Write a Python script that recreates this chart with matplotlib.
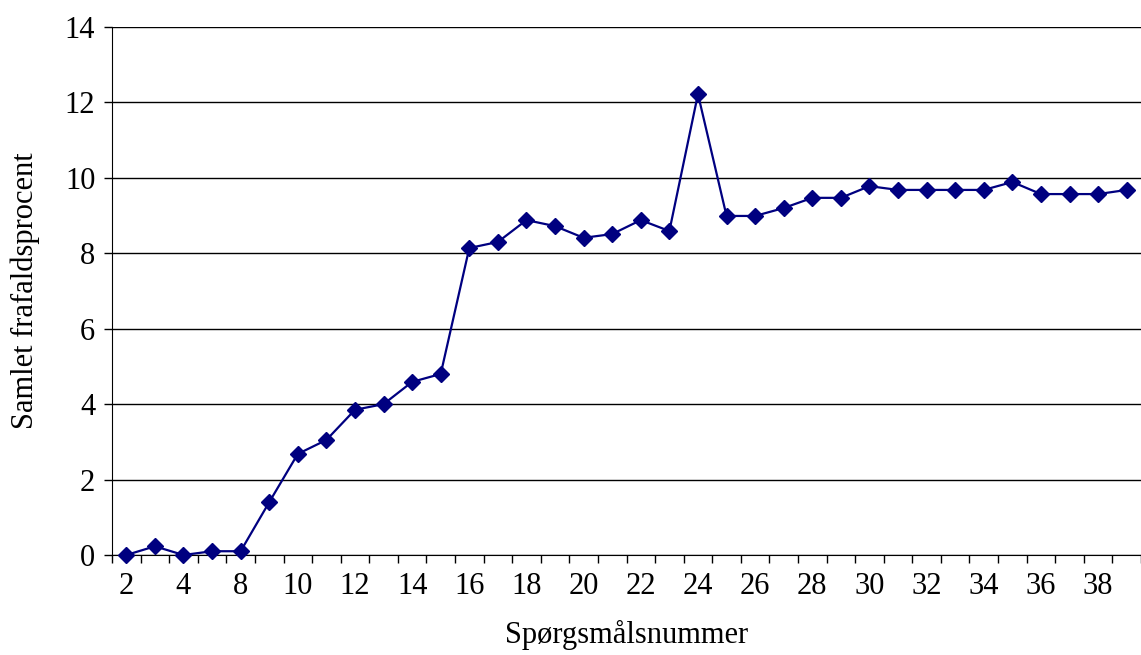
import numpy as np
import matplotlib
matplotlib.use("Agg")
import matplotlib.pyplot as plt

# question numbers (x categories) and cumulative dropout percent
questions = ["2", "3", "4", "6", "8", "9", "10", "11", "12", "13", "14", "15",
             "16", "17", "18", "19", "20", "21", "22", "23", "24", "25", "26",
             "27", "28", "29", "30", "31", "32", "33", "34", "35", "36", "37",
             "38", "39"]
dropout = [0.0, 0.23, 0.0, 0.1, 0.1, 1.4, 2.68, 3.05, 3.85, 4.0, 4.59, 4.8,
           8.14, 8.3, 8.88, 8.72, 8.41, 8.51, 8.88, 8.59, 12.22, 8.99, 8.99,
           9.2, 9.47, 9.47, 9.78, 9.68, 9.68, 9.68, 9.68, 9.89, 9.57, 9.57,
           9.57, 9.68]

plt.rcParams['font.family'] = ['Liberation Serif', 'DejaVu Serif']

fig = plt.figure(figsize=(11.41, 6.55), dpi=100)
ax = fig.add_axes([112 / 1141, 100 / 655, 1 - 112 / 1141, 528 / 655])

x = np.arange(len(questions))
ax.plot(x, dropout, color='#000080', linewidth=1.6, marker='D',
        markersize=8, clip_on=False, zorder=3)

ax.set_ylim(0, 14)
ax.set_yticks(np.arange(0, 15, 2))
ax.yaxis.grid(True, color='black', linewidth=1)
ax.set_axisbelow(True)

# category boundaries as ticks, labels on every other category
ax.set_xlim(-0.5, 35.03)
ax.set_xticks(np.arange(-0.5, len(questions), 1))
ax.set_xticklabels([])
ax.set_xticks(x[::2], minor=True)
ax.set_xticklabels(questions[::2], minor=True)
ax.tick_params(axis='x', which='minor', length=0, pad=12, labelsize=22)
ax.tick_params(axis='x', which='major', length=6, width=1)
ax.tick_params(axis='y', length=6, width=1, labelsize=22, pad=6)

for side in ['top', 'right']:
    ax.spines[side].set_visible(False)

ax.set_xlabel('Spørgsmålsnummer', fontsize=22, labelpad=14)
ax.set_ylabel('Samlet frafaldsprocent', fontsize=22, labelpad=18)

fig.savefig('out.png', dpi=100)
